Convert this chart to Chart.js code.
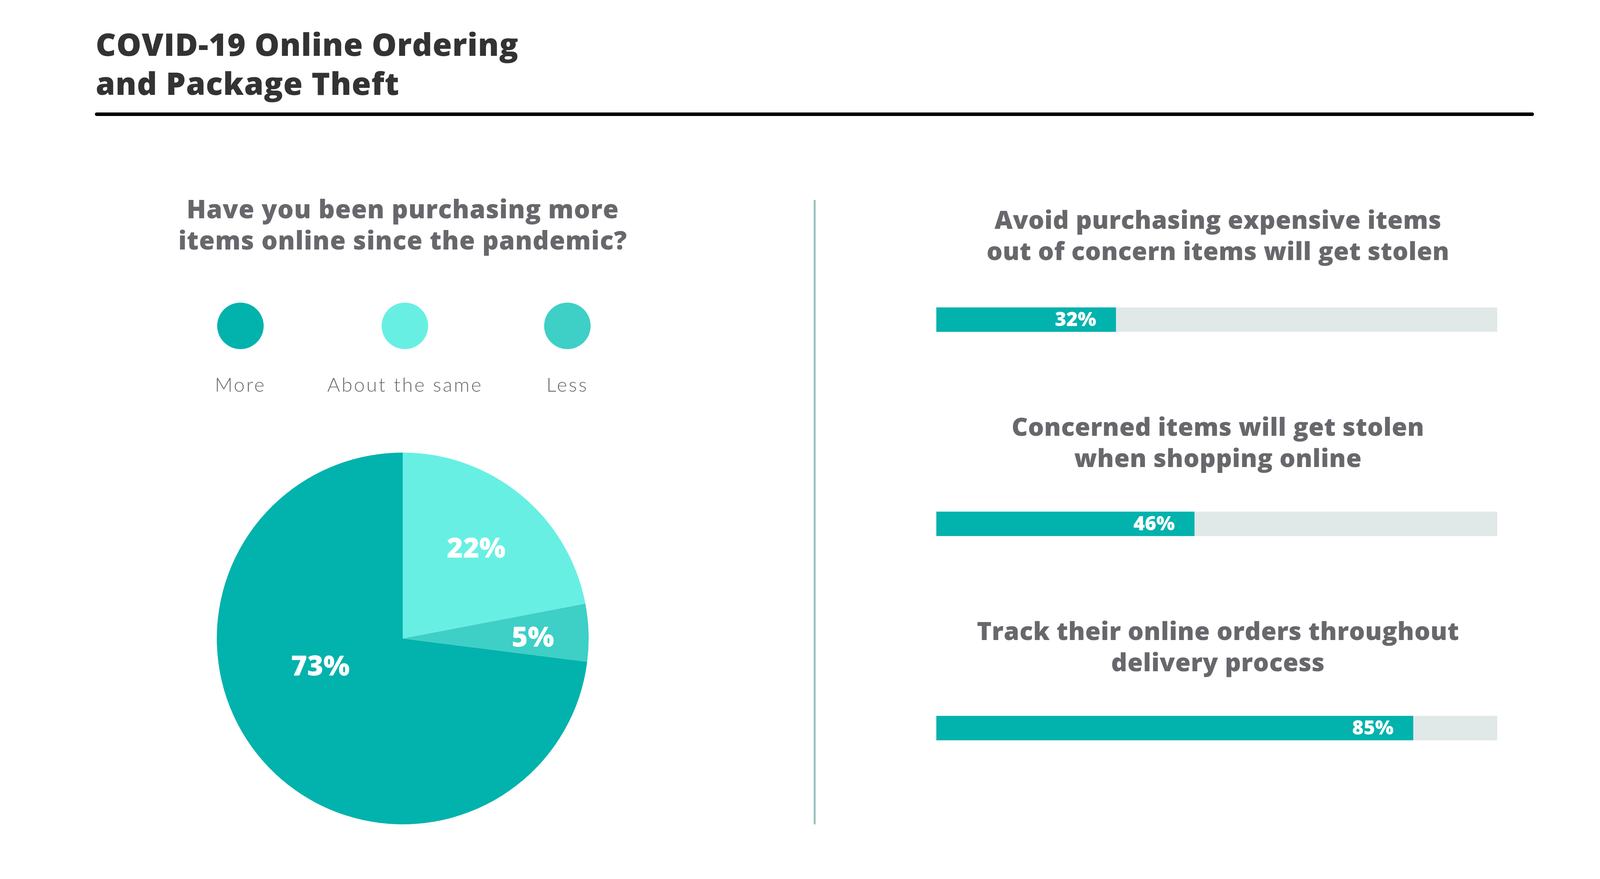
<!DOCTYPE html>
<html lang="en">
<head>
    <meta charset="UTF-8">
    <title>COVID-19 Online Ordering and Package Theft</title>
    <script src="https://cdn.jsdelivr.net/npm/chart.js"></script>
    <style>
        html, body {
            margin: 0;
            padding: 0;
            background: #ffffff;
        }
        body {
            position: relative;
            width: 4167px;
            height: 2251px;
            overflow: hidden;
            font-family: "Open Sans", Arial, sans-serif;
        }
        .title {
            position: absolute;
            left: 245px;
            top: 62px;
            font-size: 80px;
            line-height: 100px;
            font-weight: 800;
            letter-spacing: 1px;
            color: #333333;
            white-space: pre-line;
        }
        .rule {
            position: absolute;
            left: 243px;
            top: 288px;
            width: 3684px;
            height: 9px;
            border-radius: 5px;
            background: #000000;
        }
        .divider {
            position: absolute;
            left: 2083px;
            top: 512px;
            width: 5px;
            height: 1599px;
            background: #98c2be;
        }
        .question {
            position: absolute;
            text-align: center;
            font-size: 65px;
            line-height: 80px;
            font-weight: 800;
            letter-spacing: 1px;
            color: #68676c;
            white-space: pre-line;
        }
        #pieQuestion {
            left: 0;
            width: 2062px;
            top: 494px;
        }
        .barTitle {
            left: 2418px;
            width: 1400px;
            font-size: 64px;
            letter-spacing: 0.5px;
        }
        #legend {
            position: absolute;
            left: 0;
            width: 2062px;
            top: 775px;
            display: flex;
            justify-content: center;
            gap: 157px;
        }
        .item {
            display: flex;
            flex-direction: column;
            align-items: center;
        }
        .dot {
            width: 119px;
            height: 119px;
            border-radius: 50%;
        }
        .item span {
            margin-top: 60px;
            font-family: Lato, "Open Sans", sans-serif;
            font-weight: 300;
            font-size: 50px;
            line-height: 60px;
            letter-spacing: 4px;
            color: #68676c;
        }
        #pie {
            position: absolute;
            left: 555px;
            top: 1159px;
        }
        #bars {
            position: absolute;
            left: 2397px;
            top: 557px;
        }
    </style>
</head>
<body>
    <div class="title">COVID-19 Online Ordering
and Package Theft</div>
    <div class="rule"></div>

    <div class="question" id="pieQuestion">Have you been purchasing more
items online since the pandemic?</div>
    <div id="legend"></div>
    <canvas id="pie" width="952" height="952"></canvas>

    <div class="divider"></div>

    <canvas id="bars" width="1436" height="1569"></canvas>
    <div id="barTitles"></div>

    <script>
        // pie: answers and shares
        const answers = ['More', 'About the same', 'Less'];
        const shares = [73, 22, 5];
        const answerColors = ['#02b2ad', '#68efe4', '#3ecfc7'];

        // bars: statements and shares of respondents
        const statements = [
            'Avoid purchasing expensive items\nout of concern items will get stolen',
            'Concerned items will get stolen\nwhen shopping online',
            'Track their online orders throughout\ndelivery process'
        ];
        const statementValues = [32, 46, 85];
        const trackValues = [100, 100, 100];

        // legend
        const legend = document.getElementById('legend');
        answers.forEach((a, i) => {
            const item = document.createElement('div');
            item.className = 'item';
            const dot = document.createElement('div');
            dot.className = 'dot';
            dot.style.background = answerColors[i];
            const txt = document.createElement('span');
            txt.textContent = a;
            item.appendChild(dot);
            item.appendChild(txt);
            legend.appendChild(item);
        });

        // titles above each bar
        const titleTops = [522, 1052, 1575];
        const barTitles = document.getElementById('barTitles');
        statements.forEach((s, i) => {
            const d = document.createElement('div');
            d.className = 'question barTitle';
            d.style.top = titleTops[i] + 'px';
            d.textContent = s;
            barTitles.appendChild(d);
        });

        // white % labels inside the pie slices
        const pieLabels = {
            id: 'pieLabels',
            afterDatasetsDraw(chart, args, opts) {
                const ctx = chart.ctx;
                const meta = chart.getDatasetMeta(0);
                ctx.save();
                ctx.fillStyle = '#ffffff';
                ctx.font = '800 71px "Open Sans", sans-serif';
                ctx.textAlign = 'center';
                ctx.textBaseline = 'middle';
                meta.data.forEach((arc, i) => {
                    const p = arc.getProps(['x', 'y', 'startAngle', 'endAngle', 'outerRadius'], true);
                    const a = (p.startAngle + p.endAngle) / 2 + opts.shift[i] * Math.PI / 180;
                    const r = p.outerRadius * opts.radius[i];
                    ctx.fillText(chart.data.datasets[0].data[i] + '%', p.x + r * Math.cos(a), p.y + r * Math.sin(a));
                });
                ctx.restore();
            }
        };

        new Chart(document.getElementById('pie'), {
            type: 'pie',
            data: {
                labels: answers,
                datasets: [{
                    data: shares,
                    backgroundColor: answerColors,
                    borderWidth: 0
                }]
            },
            options: {
                responsive: false,
                animation: false,
                devicePixelRatio: 1,
                // start "More" where "About the same" + "Less" end, so "About the same" begins at 12 o'clock
                rotation: 360 * (shares[1] + shares[2]) / 100,
                layout: { padding: 0 },
                plugins: {
                    legend: { display: false },
                    tooltip: { enabled: false },
                    pieLabels: { radius: [0.47, 0.62, 0.70], shift: [22, 0, 2] }
                }
            },
            plugins: [pieLabels]
        });

        // % labels at the end of each filled bar
        const barLabels = {
            id: 'barLabels',
            afterDatasetsDraw(chart) {
                const ctx = chart.ctx;
                const meta = chart.getDatasetMeta(0);
                ctx.save();
                ctx.fillStyle = '#ffffff';
                ctx.font = '800 50px "Open Sans", sans-serif';
                ctx.textAlign = 'right';
                ctx.textBaseline = 'middle';
                meta.data.forEach((bar, i) => {
                    ctx.fillText(statementValues[i] + '%', bar.x - 50, bar.y + 2);
                });
                ctx.restore();
            }
        };

        new Chart(document.getElementById('bars'), {
            type: 'bar',
            data: {
                labels: statements,
                datasets: [{
                    data: statementValues,
                    backgroundColor: '#02b2ad',
                    borderWidth: 0,
                    barThickness: 62,
                    grouped: false
                }, {
                    data: trackValues,
                    backgroundColor: '#e1e8e8',
                    borderWidth: 0,
                    barThickness: 62,
                    grouped: false
                }]
            },
            options: {
                indexAxis: 'y',
                responsive: false,
                animation: false,
                devicePixelRatio: 1,
                layout: { padding: 0 },
                scales: {
                    x: { min: 0, max: 100, display: false },
                    y: { display: false }
                },
                plugins: {
                    legend: { display: false },
                    tooltip: { enabled: false }
                }
            },
            plugins: [barLabels]
        });
    </script>
</body>
</html>
